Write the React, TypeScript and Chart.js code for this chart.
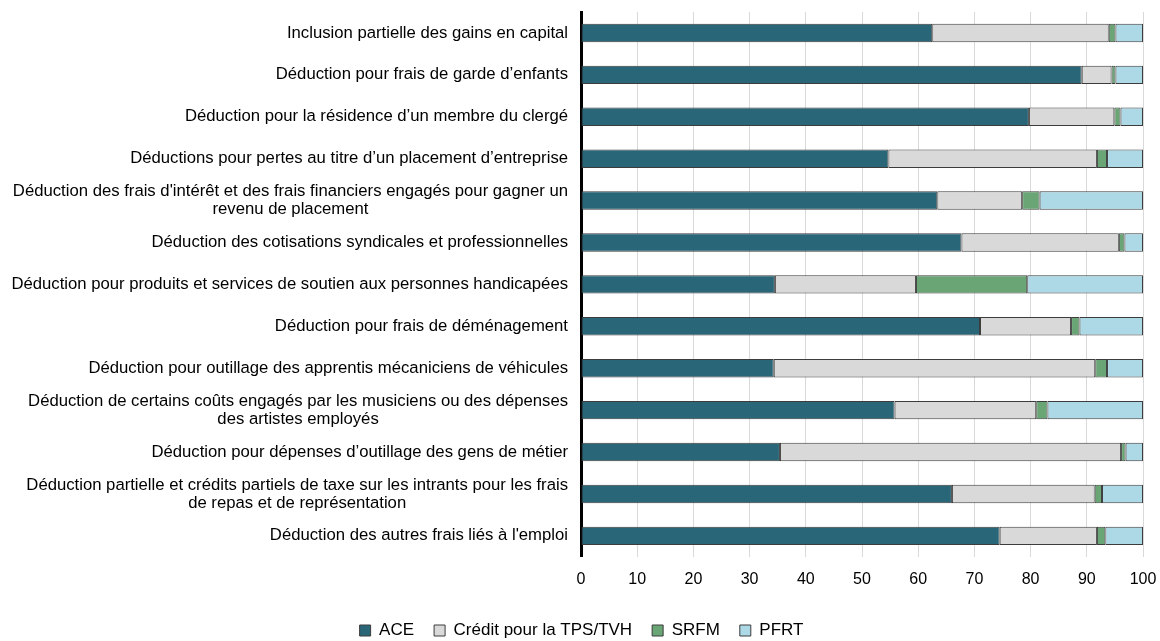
import React, { useEffect, useRef } from 'react';
import { Chart, registerables } from 'chart.js';

Chart.register(...registerables);

const categories: string[][] = [
  ['Inclusion partielle des gains en capital'],
  ['Déduction pour frais de garde d’enfants'],
  ['Déduction pour la résidence d’un membre du clergé'],
  ['Déductions pour pertes au titre d’un placement d’entreprise'],
  ['Déduction des frais d\'intérêt et des frais financiers engagés pour gagner un', 'revenu de placement'],
  ['Déduction des cotisations syndicales et professionnelles'],
  ['Déduction pour produits et services de soutien aux personnes handicapées'],
  ['Déduction pour frais de déménagement'],
  ['Déduction pour outillage des apprentis mécaniciens de véhicules'],
  ['Déduction de certains coûts engagés par les musiciens ou des dépenses', 'des artistes employés'],
  ['Déduction pour dépenses d’outillage des gens de métier'],
  ['Déduction partielle et crédits partiels de taxe sur les intrants pour les frais', 'de repas et de représentation'],
  ['Déduction des autres frais liés à l\'emploi'],
];

const seriesNames = ['ACE', 'Crédit pour la TPS/TVH', 'SRFM', 'PFRT'];
const ace = [62.5, 89.1, 79.7, 54.7, 63.4, 67.7, 34.5, 71.0, 34.3, 55.8, 35.4, 66.0, 74.5];
const tps = [31.4, 5.3, 15.2, 37.1, 15.1, 28.0, 25.1, 16.2, 57.2, 25.2, 60.7, 25.4, 17.3];
const srfm = [1.2, 0.7, 1.1, 1.8, 3.1, 1.0, 19.8, 1.5, 2.1, 2.0, 0.8, 1.3, 1.5];
const pfrt = [4.9, 4.9, 4.0, 6.4, 18.4, 3.3, 20.6, 11.3, 6.4, 17.0, 3.1, 7.3, 6.7];
const xTicks = [0, 10, 20, 30, 40, 50, 60, 70, 80, 90, 100];

const colors = ['#296678', '#d9d9d9', '#6aa575', '#add8e6'];
const FONT = '"Liberation Sans", Arial, sans-serif';

const labelPlugin = {
  id: 'catLabels',
  afterDraw(chart: any) {
    const ctx = chart.ctx;
    const y = chart.scales.y;
    const right = chart.chartArea.left - 13;
    ctx.save();
    ctx.font = `16.7px ${FONT}`;
    ctx.fillStyle = '#000';
    ctx.textBaseline = 'middle';
    ctx.textAlign = 'center';
    categories.forEach((lines, i) => {
      const cy = y.getPixelForTick(i);
      const w = Math.max(...lines.map((l) => ctx.measureText(l).width));
      const cx = right - w / 2;
      const lh = 18;
      lines.forEach((l, j) => ctx.fillText(l, cx, cy + (j - (lines.length - 1) / 2) * lh));
    });
    ctx.restore();
  },
};

export default function App() {
  const ref = useRef<HTMLCanvasElement>(null);
  useEffect(() => {
    if (!ref.current) return;
    Chart.defaults.font.family = FONT;
    const values = [ace, tps, srfm, pfrt];
    const chart = new Chart(ref.current, {
      type: 'bar',
      data: {
        labels: categories.map((c) => c.join(' ')),
        datasets: values.map((v, i) => ({
          label: seriesNames[i],
          data: v,
          backgroundColor: colors[i],
          borderColor: '#3c3c3c',
          borderWidth: 1,
          borderSkipped: false,
          categoryPercentage: 0.44,
          barPercentage: 1,
        })),
      },
      options: {
        indexAxis: 'y',
        animation: false,
        responsive: true,
        maintainAspectRatio: false,
        layout: { padding: { top: 12, right: 17, left: 20, bottom: -8 } },
        plugins: {
          legend: {
            position: 'bottom',
            labels: {
              boxWidth: 11,
              boxHeight: 11,
              color: '#000',
              font: { size: 17 },
              padding: 20,
            },
          },
          tooltip: { enabled: false },
        },
        scales: {
          x: {
            stacked: true,
            min: 0,
            max: 100,
            afterBuildTicks: (scale: any) => {
              scale.ticks = xTicks.map((v) => ({ value: v }));
            },
            afterFit: (scale: any) => {
              scale.paddingRight = 0;
              scale.paddingLeft = 0;
            },
            ticks: { color: '#000', font: { size: 16 }, padding: 13 },
            grid: { color: '#d9d9d9', lineWidth: 1, drawTicks: false },
            border: { display: false },
          },
          y: {
            stacked: true,
            z: 1,
            ticks: { display: false },
            grid: { display: false },
            border: { color: '#000', width: 3 },
            afterFit: (scale: any) => {
              scale.width = 561;
            },
          },
        },
      },
      plugins: [labelPlugin],
    });
    return () => chart.destroy();
  }, []);
  return (
    <div style={{ position: 'fixed', left: 0, top: 0, width: 1160, height: 641 }}>
      <canvas ref={ref} />
    </div>
  );
}
